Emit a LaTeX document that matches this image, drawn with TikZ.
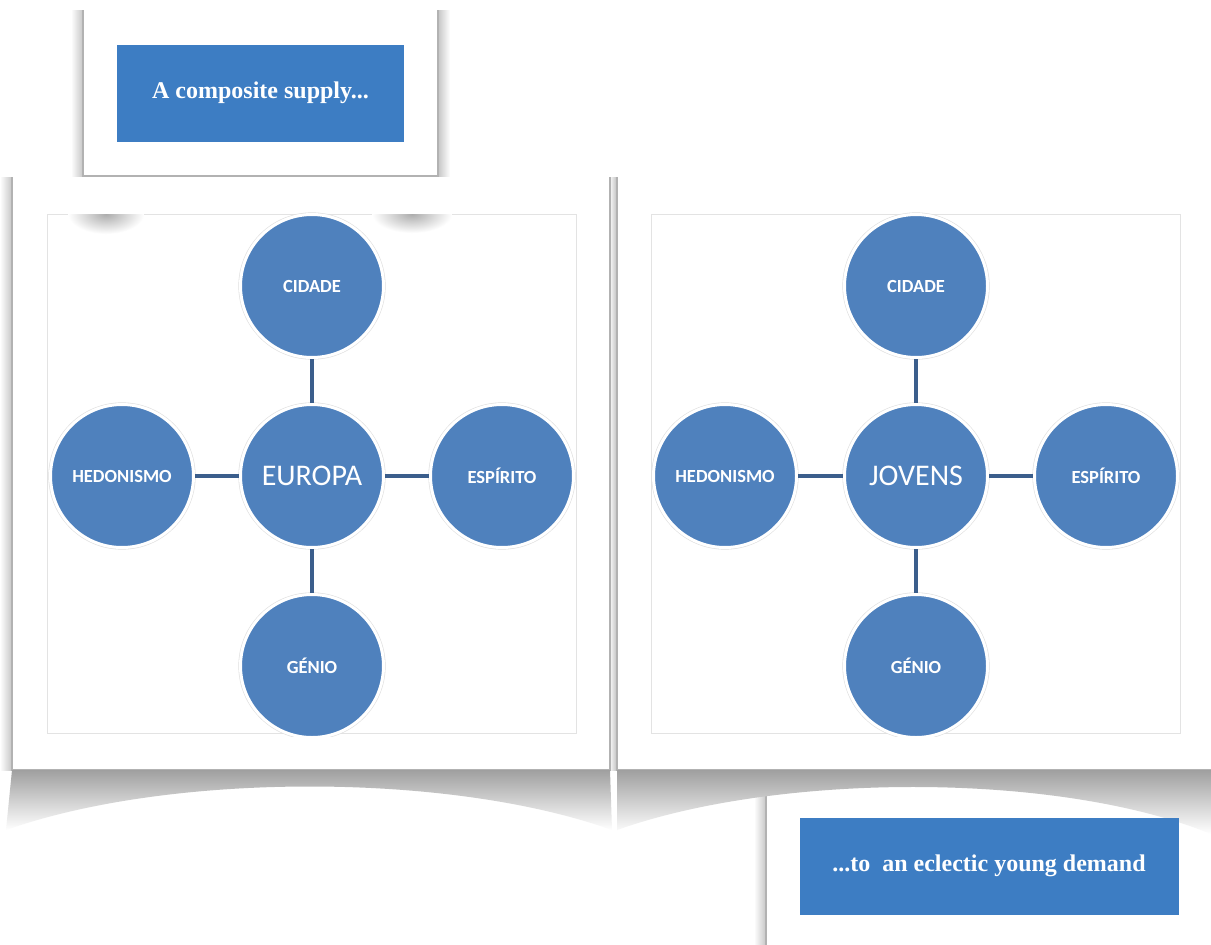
\documentclass[tikz,border=0pt]{standalone}
\usepackage{fontspec}
\setmainfont{Liberation Serif}
\newfontfamily\carl{Carlito}
\usetikzlibrary{fadings}
\definecolor{boxblue}{RGB}{61,125,195}
\definecolor{circblue}{RGB}{79,129,189}
\definecolor{linkblue}{RGB}{59,94,140}
\begin{document}
\begin{tikzpicture}[x=1pt,y=-1pt,
  bubble/.style={circle, minimum size=143pt, inner sep=0pt, fill=circblue, draw=white, line width=3pt,
    preaction={draw=gray!25, line width=4.2pt}, text=white, font=\carl\bfseries\fontsize{18.5}{18.5}\selectfont},
  hub/.style={bubble, font=\carl\fontsize{30}{30}\selectfont},
  link/.style={draw=linkblue, line width=3.6pt},
  titlebox/.style={fill=boxblue, text=white, inner sep=0pt, font=\bfseries\fontsize{24}{24}\selectfont},
  frameline/.style={draw=gray!60, line width=1.2pt},
  innerrect/.style={draw=gray!22, line width=0.8pt, fill=white},
  shadowfill/.style={top color=gray!75, bottom color=white}]
\useasboundingbox (0,0) rectangle (1211,945);
\fill[white] (0,0) rectangle (1211,945);

% side shadow bands
\shade[left color=white, right color=gray!45] (71,10) rectangle (83,176);
\shade[left color=gray!45, right color=white] (438,10) rectangle (450,176);
\shade[left color=white, right color=gray!45] (0,177) rectangle (12,770);
\shade[left color=white, right color=gray!50] (603,177) rectangle (610,770);
\shade[left color=white, right color=gray!50] (609,177) rectangle (617,770);
\shade[left color=white, right color=gray!45] (754,785) rectangle (766,945);

% top box frame
\fill[white] (83,10) rectangle (438,176);
\draw[frameline] (83,10) -- (83,176) -- (438,176) -- (438,10);
% left panel
\fill[white] (12,177) rectangle (610,770);
\draw[frameline] (12,177) -- (12,770) -- (610,770) -- (610,177);
% right panel
\fill[white] (617,177) rectangle (1211,770);
\draw[frameline] (617,177) -- (617,770) -- (1211,770);
% bottom box frame
\fill[white] (766,785) rectangle (1211,945);
\draw[frameline] (766,785) -- (766,945);

% curl shadows under the panels
\begin{scope}
\clip (12,770) -- (610,770) -- (612,830) .. controls (450,772) and (170,772) .. (6,830) -- cycle;
\shade[shadowfill] (0,770) rectangle (620,830);
\end{scope}
\begin{scope}
\clip (617,770) -- (1211,770) -- (1211,834) .. controls (1060,772) and (780,772) .. (617,830) -- cycle;
\shade[shadowfill] (610,770) rectangle (1211,834);
\end{scope}

% inner rectangles
\draw[innerrect] (47,214) rectangle (576,733);
\draw[innerrect] (651,214) rectangle (1180,733);

% soft shadows at top of left inner rectangle
\begin{scope}
\clip (47,214.5) rectangle (576,260);
\shade[inner color=gray!65, outer color=white] (106,214) ellipse [x radius=38, y radius=20];
\shade[inner color=gray!65, outer color=white] (412,214) ellipse [x radius=40, y radius=19];
\end{scope}

% circles
\begin{scope}
\clip (0,150) rectangle (1211,736);
\node[bubble] (lc) at (312,286) {CIDADE};
\node[hub] (lm) at (312,476) {EUROPA};
\node[bubble] (lh) at (122,476) {HEDONISMO};
\node[bubble] (le) at (502,476) {ESPÍRITO};
\node[bubble] (lg) at (312,666) {GÉNIO};
\node[bubble] (rc) at (916,286) {CIDADE};
\node[hub] (rm) at (916,476) {JOVENS};
\node[bubble] (rh) at (725,476) {HEDONISMO};
\node[bubble] (re) at (1106,476) {ESPÍRITO};
\node[bubble] (rg) at (916,666) {GÉNIO};
\end{scope}
\draw[link] (lc) -- (lm);
\draw[link] (lh) -- (lm);
\draw[link] (lm) -- (le);
\draw[link] (lm) -- (lg);
\draw[link] (rc) -- (rm);
\draw[link] (rh) -- (rm);
\draw[link] (rm) -- (re);
\draw[link] (rm) -- (rg);

% title boxes
\node[titlebox, minimum width=287pt, minimum height=97pt] (supply) at (260.5,93) {A composite supply...};
\node[titlebox, minimum width=379pt, minimum height=97pt] (demand) at (989,866) {...to\ \ an eclectic young demand};
\end{tikzpicture}
\end{document}
